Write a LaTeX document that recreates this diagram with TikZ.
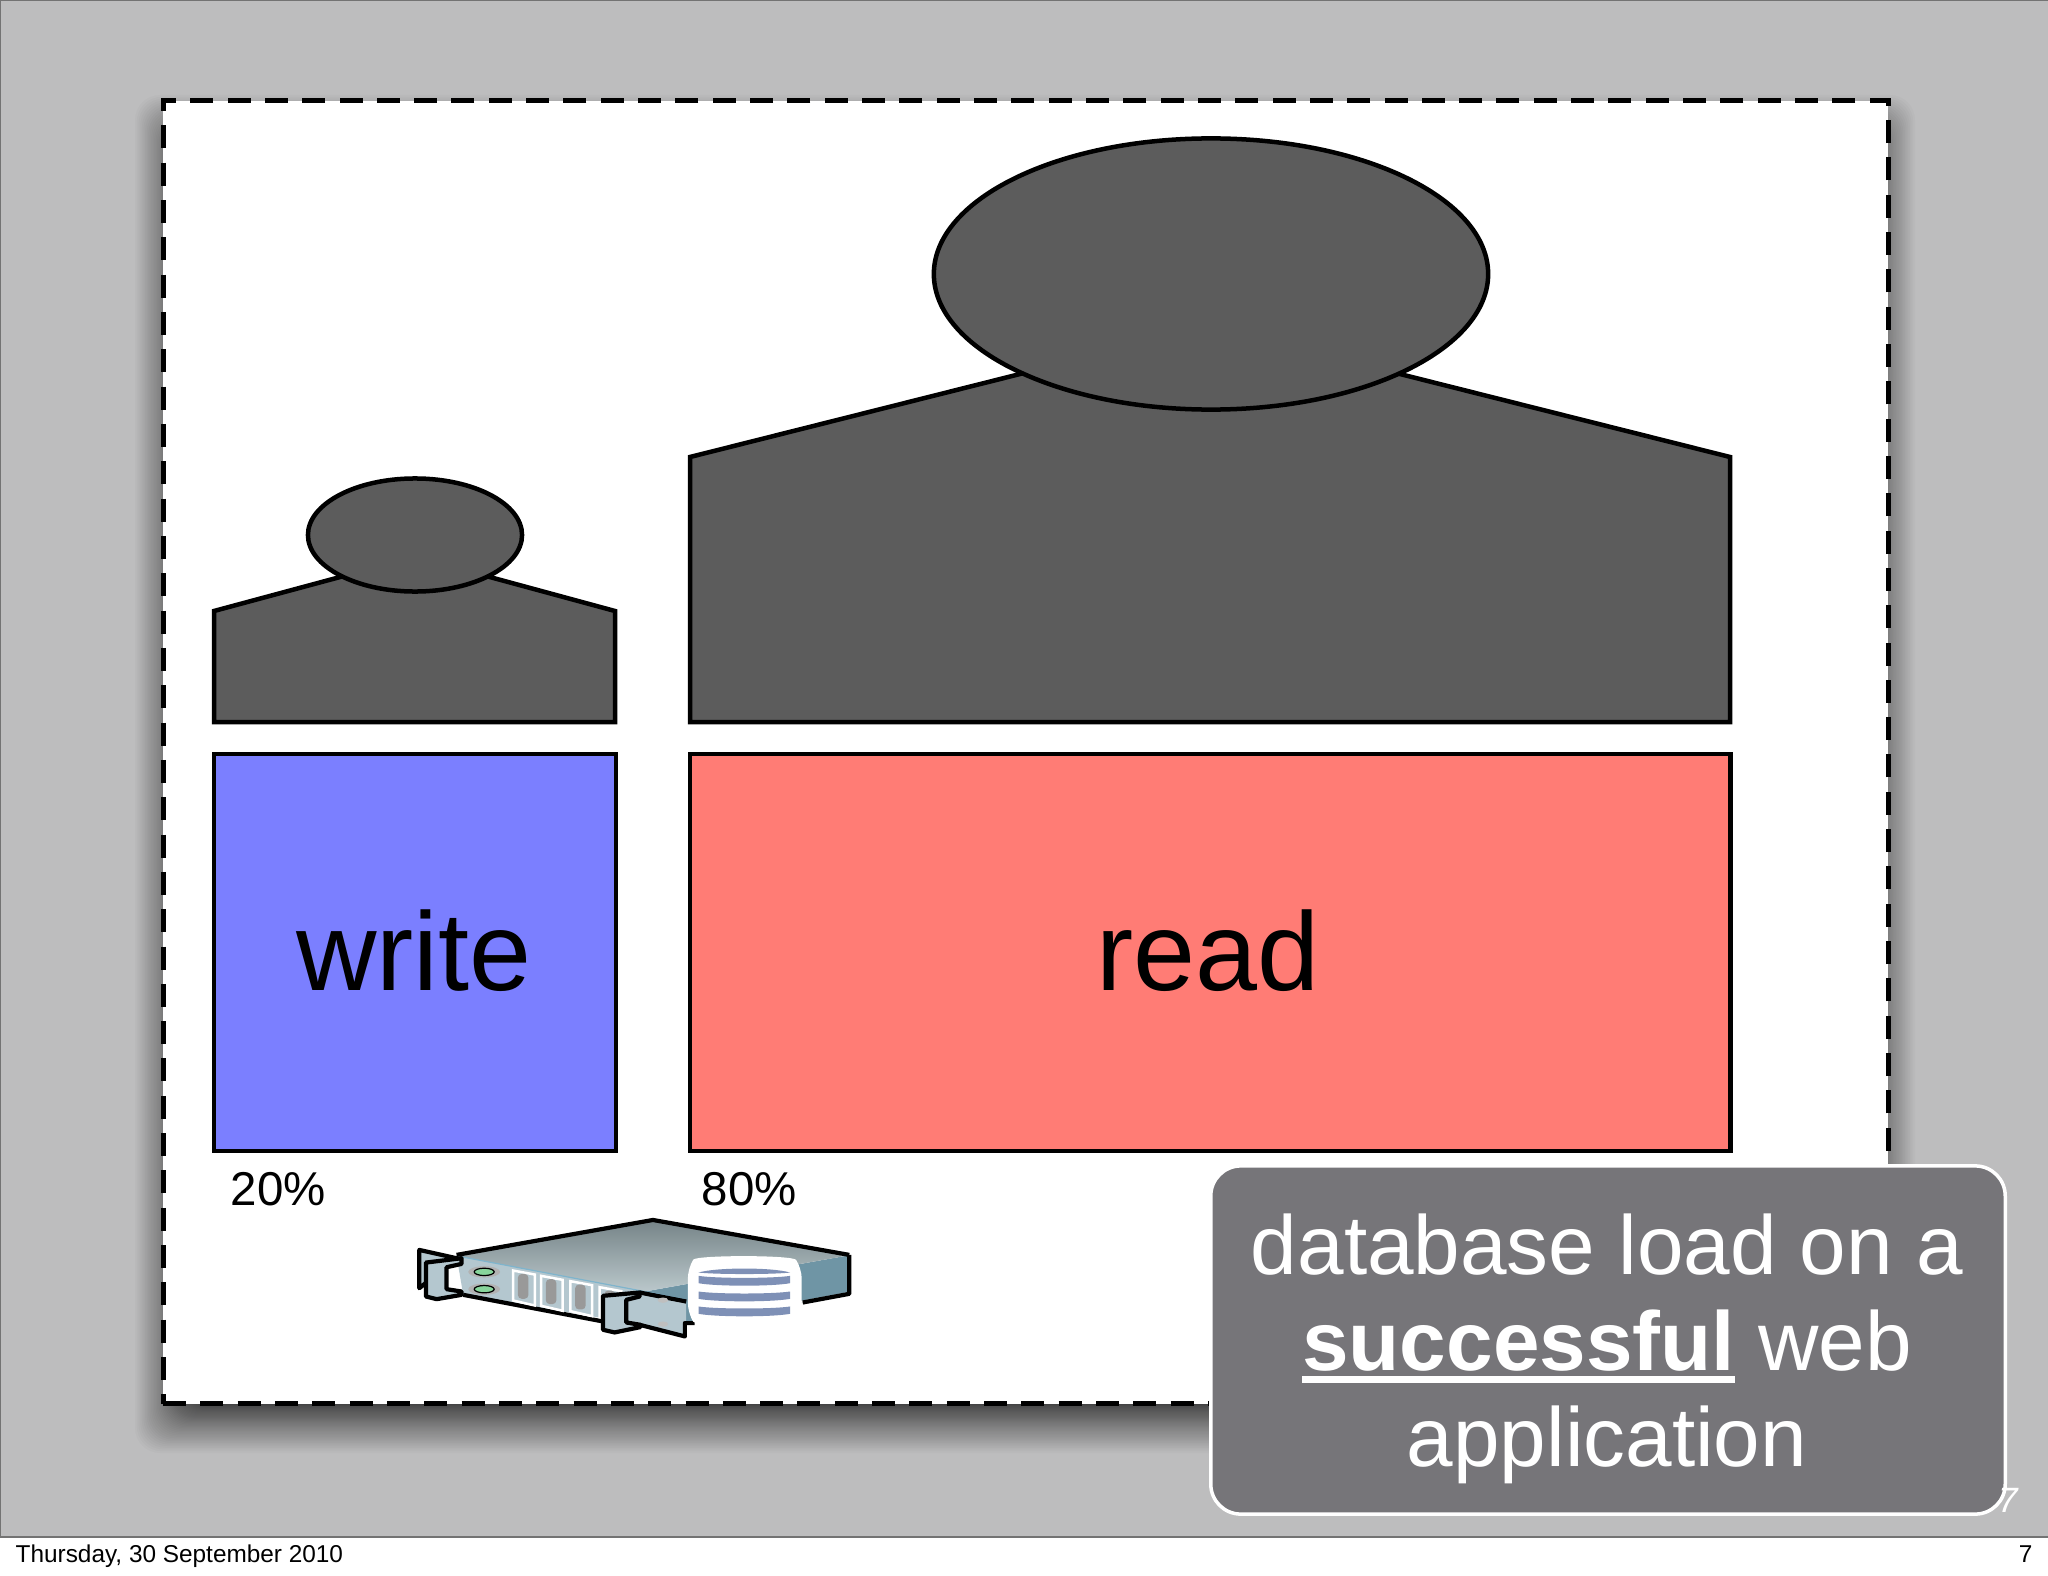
\documentclass[tikz,border=0pt]{standalone}
\usepackage{fontspec}
\setmainfont{Liberation Sans}
\usetikzlibrary{positioning,shapes.geometric}
\definecolor{slidegray}{HTML}{BDBDBE}
\definecolor{persongray}{HTML}{5C5C5C}
\definecolor{writeblue}{HTML}{7B7FFF}
\definecolor{readred}{HTML}{FF7C75}
\definecolor{calloutgray}{HTML}{767579}
\definecolor{rackface}{HTML}{B4C7CF}
\definecolor{rackside}{HTML}{6F95A5}
\definecolor{racktop}{HTML}{9DB0B5}
\definecolor{rackedge}{HTML}{7FB4CC}
\definecolor{dbband}{HTML}{7E90B6}
\newcommand{\thickul}[1]{\setbox0\hbox{#1}\rlap{\rule[-3.5pt]{\wd0}{2pt}}\box0\relax}
\begin{document}
\begin{tikzpicture}[
  x=0.01cm, y=-0.01cm,
  line join=miter,
  page/.style={rectangle, inner sep=0, outer sep=0, minimum width=20.48cm, minimum height=15.36cm, fill=slidegray, draw=black!55, line width=0.02cm},
  sheet/.style={rectangle, inner sep=0, outer sep=0, fill=white, draw=black, line width=0.05cm, dash pattern=on 0.23cm off 0.143cm, minimum width=17.24cm, minimum height=13.02cm},
  body/.style={fill=persongray, draw=black, line width=0.045cm},
  head/.style={ellipse, inner sep=0, outer sep=0, fill=persongray, draw=black, line width=0.045cm},
  bar/.style={rectangle, inner sep=0, outer sep=0, draw=black, line width=0.045cm, minimum height=3.97cm},
  barlabel/.style={anchor=base, inner sep=0, font=\fontsize{31.7pt}{34pt}\selectfont},
  percent/.style={anchor=base west, inner sep=0, font=\fontsize{13.5pt}{15pt}\selectfont},
  callout/.style={rectangle, rounded corners=0.3cm, inner sep=0, fill=calloutgray, draw=white, line width=0.035cm, minimum width=7.94cm, minimum height=3.48cm},
  footer/.style={inner sep=0, font=\fontsize{6.93pt}{8pt}\selectfont},
  rackline/.style={draw=black, line width=0.042cm, line join=round},
  ear/.style={fill=rackface, draw=black, line width=0.042cm, line join=round},
  slot/.style={fill=rackface, draw=white, line width=0.025cm},
  band/.style={fill=dbband, draw=none}
]
\useasboundingbox (0,0) rectangle (2048,1576);
\fill[white] (0,0) rectangle (2048,1576);

% slide background and page
\node[page, anchor=north west] (backdrop) at (0,0) {};
\foreach \i in {0,...,59} {
  \pgfmathsetmacro{\e}{-25+53*(\i/59)*(\i/59)}
  \fill[black, opacity=0.021, rounded corners=0.25cm] ({163-\e},{123-\e}) rectangle ({1887+\e},{1425+\e});
}
\node[sheet, anchor=north west] (sheet) at (163,101) {};

% people
\draw[body] (1040,369) -- (690,457) -- (690,722) -- (1730,722) -- (1730,457) -- (1380,369) -- cycle;
\node[head, minimum width=5.54cm, minimum height=2.71cm] (bighead) at (1211,274) {};
\draw[body] (355,573) -- (214,611) -- (214,722) -- (615,722) -- (615,611) -- (475,573) -- cycle;
\node[head, minimum width=2.14cm, minimum height=1.13cm] (smallhead) at (415,535) {};

% bars
\node[bar, fill=writeblue, minimum width=4.02cm, anchor=north west] (writebar) at (214,754) {};
\node[bar, fill=readred, minimum width=10.40cm, anchor=north west] (readbar) at (690,754) {};
\node[barlabel] (writelabel) at (414,990) {write};
\node[barlabel] (readlabel) at (1208,990) {read};
\node[percent] (writepct) at (230,1205) {20\%};
\node[percent] (readpct) at (701,1205) {80\%};

% server with database
\begin{scope}[shift={(400,1190)}, x=0.003333cm, y=-0.003333cm]
  \fill[rackside] (735,305) -- (1345,197) -- (1345,312) -- (860,400) -- cycle;
  \shade[top color=racktop!75!black, bottom color=racktop!70!white] (170,198) -- (760,92) -- (1345,197) -- (735,305) -- cycle;
  \fill[rackface] (170,198) -- (735,305) -- (860,330) -- (860,435) -- (610,385) -- (190,315) -- cycle;
  \draw[rackedge, line width=0.012cm] (170,198) -- (735,305) -- (860,330);
  \draw[white, line width=0.012cm] (1205,335) -- (1340,310);
  \draw[rackline] (170,195) -- (760,90) -- (1350,195);
  \draw[rackline] (190,315) -- (610,395);
  \draw[white, line width=0.012cm] (1345,200) -- (1345,308);
  % leds
  \foreach \ly in {246,298} {
    \fill[black!30] (253,\ly) ellipse [x radius=48, y radius=17];
    \draw[fill=green!25!rackface, draw=black, line width=0.012cm] (253,\ly) ellipse [x radius=30, y radius=11];
  }
  % slots
  \foreach \sx/\sy in {340/242, 424/258, 512/274, 600/292} {
    \draw[slot] (\sx,\sy) -- ({\sx+65},{\sy+12}) -- ({\sx+65},{\sy+105}) -- (\sx,{\sy+90}) -- cycle;
    \fill[black!40, rounded corners=0.04cm] ({\sx+14},{\sy+10}) rectangle ({\sx+46},{\sy+85});
  }
  % ears
  \draw[ear] (58,180) -- (170,205) -- (58,295) -- cycle;
  \draw[ear] (78,218) -- (185,205) -- (185,222) -- (140,232) -- (140,298) -- (185,305) -- (185,315) -- (110,328) -- (78,320) -- cycle;
  \draw[rackline] (860,335) -- (720,308);
  \draw[rackline] (720,405) -- (856,440) -- (856,400) -- (885,400);
  \draw[rackline] (1350,195) -- (1350,312) -- (1210,338);
  \fill[black!25] (790,331) ellipse [x radius=16, y radius=8];
  \fill[black!25] (790,403) ellipse [x radius=16, y radius=8];
  \draw[ear] (610,318) -- (720,308) -- (720,320) -- (680,330) -- (680,398) -- (722,405) -- (722,412) -- (645,428) -- (610,420) -- cycle;
  % database
  \fill[white, rounded corners=0.1cm] (865,235) .. controls (890,195) and (1180,195) .. (1207,235) -- (1207,370) .. controls (1180,410) and (890,410) .. (865,370) -- cycle;
  \fill[band] (897,248) .. controls (950,232) and (1120,232) .. (1172,248) .. controls (1120,254) and (950,254) .. (897,248) -- cycle;
  \foreach \by in {258,305,350} {
    \fill[band] (897,\by) .. controls (950,{\by+8}) and (1120,{\by+8}) .. (1172,\by) -- (1172,{\by+22}) .. controls (1120,{\by+32}) and (950,{\by+32}) .. (897,{\by+22}) -- cycle;
  }
\end{scope}

% callout
\node[callout] (callout) at (1608,1340) {};
\node[align=center, inner sep=0, text=white, font=\fontsize{23.8pt}{27.3pt}\selectfont] (callouttext) at (1607,1349)
  {database load on a\\ \thickul{\textbf{successful}} web\\ application};
\node[inner sep=0, text=white, font=\fontsize{10pt}{11pt}\itshape\selectfont] (slidenum) at (2008,1500) {7};

% footer
\node[footer, anchor=base west] (datelabel) at (15,1562) {Thursday, 30 September 2010};
\node[footer, anchor=base east] (pagelabel) at (2033,1562) {7};
\end{tikzpicture}
\end{document}
